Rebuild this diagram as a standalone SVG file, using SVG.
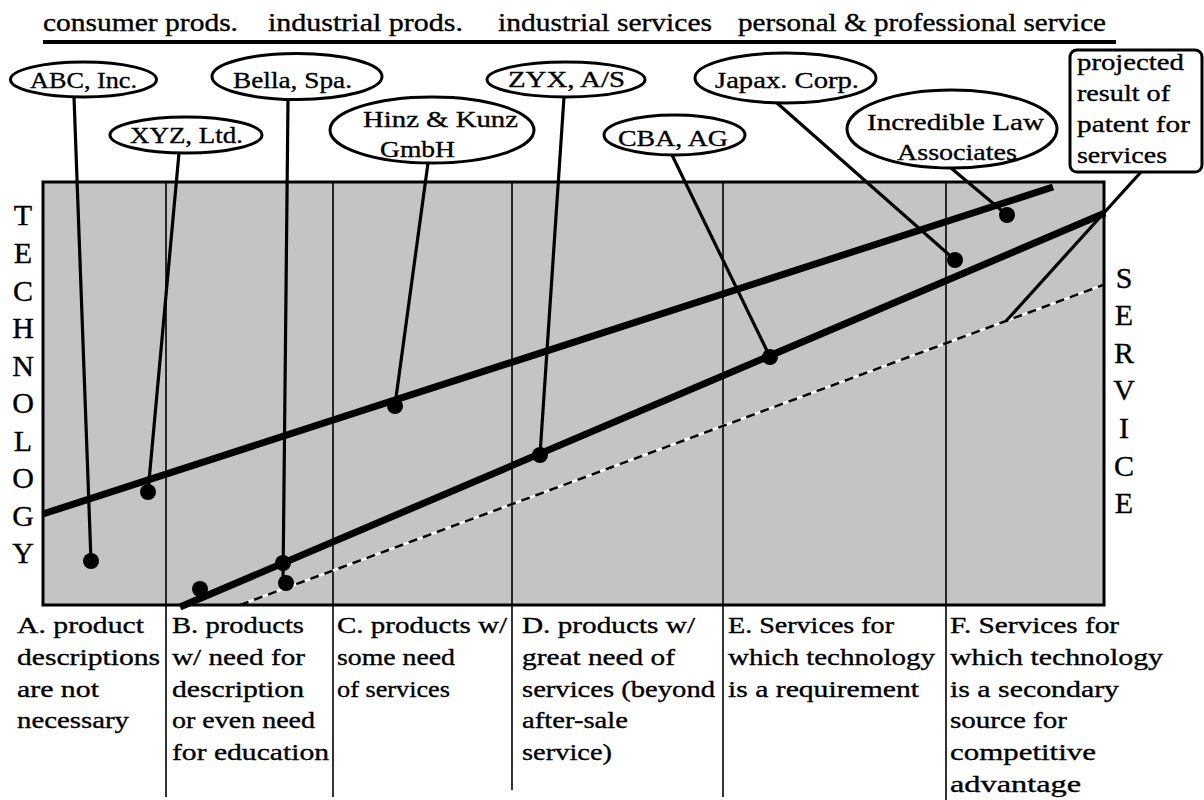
<svg xmlns="http://www.w3.org/2000/svg" width="1204" height="800" viewBox="0 0 1204 800">
<style>
text{fill:#000;stroke:#000;stroke-width:0.35}
.hd{font-size:25px}
.lb{font-size:24px}
.cap{font-size:24px}
.ax{font-size:30px;text-anchor:middle}
.ell{fill:#fff;stroke:#000;stroke-width:3}
.lead{stroke:#000;stroke-width:3.2;fill:none;stroke-linecap:round}
.thick{stroke:#000;stroke-width:7;fill:none}
.div{stroke:#000;stroke-width:1.6}
.dot{fill:#000}
</style>
<rect width="1204" height="800" fill="#fff"/>
<g font-family="Liberation Serif, Times New Roman, serif">
<g id="header">
<text class="hd" x="43" y="31" textLength="195" lengthAdjust="spacingAndGlyphs">consumer prods.</text>
<text class="hd" x="268" y="31" textLength="195" lengthAdjust="spacingAndGlyphs">industrial prods.</text>
<text class="hd" x="498" y="31" textLength="214" lengthAdjust="spacingAndGlyphs">industrial services</text>
<text class="hd" x="738" y="31" textLength="368" lengthAdjust="spacingAndGlyphs">personal &amp; professional service</text>
<line x1="43" y1="42" x2="1116" y2="42" stroke="#000" stroke-width="4"/>
</g>
<g id="chart">
<rect x="43" y="182" width="1061" height="423" fill="#c4c4c4"/>
<line class="div" x1="166" y1="182" x2="166" y2="797"/>
<line class="div" x1="333" y1="182" x2="333" y2="797"/>
<line class="div" x1="512" y1="182" x2="512" y2="790"/>
<line class="div" x1="723" y1="182" x2="723" y2="797"/>
<line class="div" x1="946" y1="182" x2="946" y2="800"/>
<line x1="240" y1="605" x2="1103" y2="285" stroke="#fff" stroke-width="2.5"/>
<line x1="240" y1="605" x2="1103" y2="285" stroke="#000" stroke-width="2.5" stroke-dasharray="9,6"/>
<line class="thick" x1="43" y1="514" x2="1053" y2="187"/>
<line class="thick" x1="180" y1="607" x2="1105" y2="213"/>
<rect x="43" y="182" width="1061" height="423" fill="none" stroke="#000" stroke-width="3"/>
</g>
<g id="axis-technology">
<text class="ax" x="23" y="225">T</text>
<text class="ax" x="23" y="263">E</text>
<text class="ax" x="23" y="301">C</text>
<text class="ax" x="23" y="338">H</text>
<text class="ax" x="23" y="376">N</text>
<text class="ax" x="23" y="413">O</text>
<text class="ax" x="23" y="451">L</text>
<text class="ax" x="23" y="488">O</text>
<text class="ax" x="23" y="526">G</text>
<text class="ax" x="23" y="563">Y</text>
</g>
<g id="axis-service">
<text class="ax" x="1124" y="288">S</text>
<text class="ax" x="1124" y="325">E</text>
<text class="ax" x="1124" y="363">R</text>
<text class="ax" x="1124" y="400">V</text>
<text class="ax" x="1124" y="438">I</text>
<text class="ax" x="1124" y="476">C</text>
<text class="ax" x="1124" y="513">E</text>
</g>
<g id="connectors">
<line class="lead" x1="74" y1="97" x2="91" y2="561"/>
<line class="lead" x1="179" y1="153" x2="148" y2="492"/>
<line class="lead" x1="288" y1="100" x2="283" y2="582"/>
<line class="lead" x1="428" y1="163" x2="395" y2="405"/>
<line class="lead" x1="564" y1="97" x2="540" y2="455"/>
<line class="lead" x1="672" y1="155" x2="770" y2="357"/>
<line class="lead" x1="777" y1="103" x2="955" y2="260"/>
<line class="lead" x1="951" y1="168" x2="1007" y2="215"/>
<line class="lead" x1="1141" y1="172" x2="1007" y2="320"/>
<circle class="dot" cx="91" cy="561" r="8"/>
<circle class="dot" cx="148" cy="492" r="8"/>
<circle class="dot" cx="200" cy="589" r="8"/>
<circle class="dot" cx="283" cy="563" r="8"/>
<circle class="dot" cx="286" cy="583" r="8"/>
<circle class="dot" cx="395" cy="406" r="8"/>
<circle class="dot" cx="540" cy="455" r="8"/>
<circle class="dot" cx="770" cy="357" r="8"/>
<circle class="dot" cx="955" cy="260" r="8"/>
<circle class="dot" cx="1007" cy="215" r="8"/>
</g>
<g id="abc"><ellipse class="ell" cx="83.5" cy="79.5" rx="73" ry="17.5"/><text class="lb" x="30" y="88" textLength="107" lengthAdjust="spacingAndGlyphs">ABC, Inc.</text></g>
<g id="xyz"><ellipse class="ell" cx="186" cy="135" rx="76" ry="18"/><text class="lb" x="130" y="143" textLength="113" lengthAdjust="spacingAndGlyphs">XYZ, Ltd.</text></g>
<g id="bella"><ellipse class="ell" cx="297" cy="76.5" rx="85" ry="23"/><text class="lb" x="233" y="88" textLength="119" lengthAdjust="spacingAndGlyphs">Bella, Spa.</text></g>
<g id="hinz"><ellipse class="ell" cx="432" cy="130" rx="102" ry="33"/><text class="lb" x="363" y="127" textLength="155" lengthAdjust="spacingAndGlyphs">Hinz &amp; Kunz</text><text class="lb" x="380" y="157" textLength="75" lengthAdjust="spacingAndGlyphs">GmbH</text></g>
<g id="zyx"><ellipse class="ell" cx="566" cy="79.5" rx="79" ry="17.5"/><text class="lb" x="508" y="87" textLength="117" lengthAdjust="spacingAndGlyphs">ZYX, A/S</text></g>
<g id="cba"><ellipse class="ell" cx="674.5" cy="135" rx="70.5" ry="20"/><text class="lb" x="618" y="146" textLength="110" lengthAdjust="spacingAndGlyphs">CBA, AG</text></g>
<g id="japax"><ellipse class="ell" cx="785.5" cy="78" rx="90.5" ry="25"/><text class="lb" x="715" y="88" textLength="144" lengthAdjust="spacingAndGlyphs">Japax. Corp.</text></g>
<g id="incredible"><ellipse class="ell" cx="952" cy="129" rx="105" ry="39"/><text class="lb" x="867" y="130" textLength="177" lengthAdjust="spacingAndGlyphs">Incredible Law</text><text class="lb" x="897" y="160" textLength="120" lengthAdjust="spacingAndGlyphs">Associates</text></g>
<g id="projected">
<rect x="1070" y="50" width="132" height="122" rx="7" fill="#fff" stroke="#000" stroke-width="3"/>
<text class="lb" x="1077" y="70" textLength="107" lengthAdjust="spacingAndGlyphs">projected</text>
<text class="lb" x="1077" y="101" textLength="93" lengthAdjust="spacingAndGlyphs">result of</text>
<text class="lb" x="1077" y="132" textLength="113" lengthAdjust="spacingAndGlyphs">patent for</text>
<text class="lb" x="1077" y="163" textLength="90" lengthAdjust="spacingAndGlyphs">services</text>
</g>
<g id="col-a">
<text class="cap" x="17" y="633" textLength="127" lengthAdjust="spacingAndGlyphs">A. product</text>
<text class="cap" x="17" y="665" textLength="143" lengthAdjust="spacingAndGlyphs">descriptions</text>
<text class="cap" x="17" y="697" textLength="82" lengthAdjust="spacingAndGlyphs">are not</text>
<text class="cap" x="17" y="728" textLength="112" lengthAdjust="spacingAndGlyphs">necessary</text>
</g>
<g id="col-b">
<text class="cap" x="172" y="633" textLength="132" lengthAdjust="spacingAndGlyphs">B. products</text>
<text class="cap" x="172" y="665" textLength="133" lengthAdjust="spacingAndGlyphs">w/ need for</text>
<text class="cap" x="172" y="697" textLength="132" lengthAdjust="spacingAndGlyphs">description</text>
<text class="cap" x="172" y="728" textLength="143" lengthAdjust="spacingAndGlyphs">or even need</text>
<text class="cap" x="172" y="760" textLength="157" lengthAdjust="spacingAndGlyphs">for education</text>
</g>
<g id="col-c">
<text class="cap" x="337" y="633" textLength="170" lengthAdjust="spacingAndGlyphs">C. products w/</text>
<text class="cap" x="337" y="665" textLength="118" lengthAdjust="spacingAndGlyphs">some need</text>
<text class="cap" x="337" y="697" textLength="113" lengthAdjust="spacingAndGlyphs">of services</text>
</g>
<g id="col-d">
<text class="cap" x="522" y="633" textLength="173" lengthAdjust="spacingAndGlyphs">D. products w/</text>
<text class="cap" x="522" y="665" textLength="153" lengthAdjust="spacingAndGlyphs">great need of</text>
<text class="cap" x="522" y="697" textLength="193" lengthAdjust="spacingAndGlyphs">services (beyond</text>
<text class="cap" x="522" y="728" textLength="106" lengthAdjust="spacingAndGlyphs">after-sale</text>
<text class="cap" x="522" y="760" textLength="90" lengthAdjust="spacingAndGlyphs">service)</text>
</g>
<g id="col-e">
<text class="cap" x="728" y="633" textLength="166" lengthAdjust="spacingAndGlyphs">E. Services for</text>
<text class="cap" x="728" y="665" textLength="207" lengthAdjust="spacingAndGlyphs">which technology</text>
<text class="cap" x="728" y="697" textLength="191" lengthAdjust="spacingAndGlyphs">is a requirement</text>
</g>
<g id="col-f">
<text class="cap" x="950" y="633" textLength="169" lengthAdjust="spacingAndGlyphs">F. Services for</text>
<text class="cap" x="950" y="665" textLength="213" lengthAdjust="spacingAndGlyphs">which technology</text>
<text class="cap" x="950" y="697" textLength="169" lengthAdjust="spacingAndGlyphs">is a secondary</text>
<text class="cap" x="950" y="728" textLength="117" lengthAdjust="spacingAndGlyphs">source for</text>
<text class="cap" x="950" y="760" textLength="146" lengthAdjust="spacingAndGlyphs">competitive</text>
<text class="cap" x="950" y="792" textLength="131" lengthAdjust="spacingAndGlyphs">advantage</text>
</g>
</g>
</svg>
